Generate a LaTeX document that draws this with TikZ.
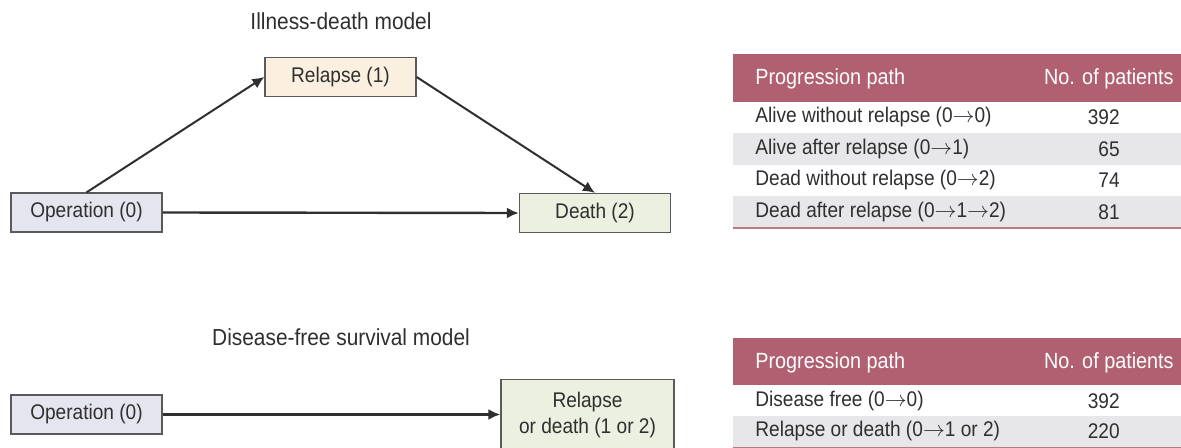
\documentclass[tikz,border=0pt]{standalone}
\usepackage{fontspec}
\setmainfont{Liberation Sans}[FakeStretch=0.9]
\usetikzlibrary{arrows.meta,positioning}
\definecolor{ink}{HTML}{2F2F2F}
\definecolor{edge}{HTML}{5A5A5A}
\definecolor{hdr}{HTML}{B06070}
\definecolor{stripe}{HTML}{E7E7E9}
\definecolor{opfill}{HTML}{E4E5EF}
\definecolor{relfill}{HTML}{FBF0E0}
\definecolor{deadfill}{HTML}{EBF0E0}
\newcommand{\txtfont}{\fontsize{10.6pt}{12.6pt}\selectfont}
\newcommand{\goes}{\ensuremath{\rightarrow}}
\tikzset{
  state/.style={draw=edge, line width=0.6pt, minimum width=75.5pt,
                minimum height=19.5pt, inner sep=2pt, font=\txtfont, text=ink,
                align=center},
  arrow/.style={-{Latex[length=6pt,width=5.5pt]}, line width=1.2pt, draw=ink},
  title/.style={font=\fontsize{11.6pt}{13.6pt}\selectfont, text=ink},
  headcell/.style={fill=hdr, minimum width=224pt, minimum height=24pt,
                   inner sep=0pt},
  rowcell/.style={minimum width=224pt, minimum height=15.75pt, inner sep=0pt},
  headtext/.style={font=\fontsize{11pt}{13pt}\selectfont, text=white, inner sep=0pt},
  celltext/.style={font=\txtfont, text=ink, inner sep=0pt},
  tabline/.style={draw=hdr!85, line width=1.1pt}
}
\begin{document}
\begin{tikzpicture}[x=0.5pt,y=-0.5pt]
  \useasboundingbox (0,0) rectangle (1181,448);

  % illness-death model
  \node[title] (t1) at (341,21) {Illness-death model};
  \node[state, fill=opfill] (op1) at (86.5,212.5) {Operation (0)};
  \node[state, fill=relfill] (rel) at (340.5,77) {Relapse (1)};
  \node[state, fill=deadfill] (dead) at (595,213) {Death (2)};
  \draw[arrow, line width=1pt] (op1.north) -- (rel.west);
  \draw[arrow, line width=1pt] (rel.east) -- (dead.north);
  \draw[arrow] (op1.east) -- (dead.west);

  % table of paths, illness-death
  \node[headcell] (h1) at (957,78) {};
  \node[headtext, anchor=west] (h1a) at (755,79) {Progression path};
  \node[headtext, anchor=east] (h1b) at (1174,79) {No. of patients};
  \foreach \i/\y/\lab/\num/\col in {
      1/117.5/{Alive without relapse (0\goes0)}/392/white,
      2/149/{Alive after relapse (0\goes1)}/65/stripe,
      3/180.5/{Dead without relapse (0\goes2)}/74/white,
      4/212/{Dead after relapse (0\goes1\goes2)}/81/stripe} {
    \node[rowcell, fill=\col] (pa\i) at (957,\y) {};
    \node[celltext, anchor=west] (pal\i) at (755,\y) {\lab};
    \node[celltext, anchor=east] (pan\i) at (1120,\y) {\num};
  }
  \draw[tabline] (pa4.south west) -- (pa4.south east);

  % disease-free survival model
  \node[title] (t2) at (341,337) {Disease-free survival model};
  \node[state, fill=opfill] (op2) at (86.5,414.5) {Operation (0)};
  \node[state, fill=deadfill, minimum width=86.5pt, minimum height=36pt,
        anchor=north] (rd) at (587.5,378.5) {Relapse\\or death (1 or 2)};
  \draw[arrow] (op2.east) -- (rd.west |- op2.east);

  % table of paths, disease-free
  \node[headcell] (h2) at (957,362) {};
  \node[headtext, anchor=west] (h2a) at (755,363) {Progression path};
  \node[headtext, anchor=east] (h2b) at (1174,363) {No. of patients};
  \foreach \i/\y/\lab/\num/\col in {
      1/401/{Disease free (0\goes0)}/392/white,
      2/431.5/{Relapse or death (0\goes1 or 2)}/220/stripe} {
    \node[rowcell, fill=\col] (pb\i) at (957,\y) {};
    \node[celltext, anchor=west] (pbl\i) at (755,\y) {\lab};
    \node[celltext, anchor=east] (pbn\i) at (1120,\y) {\num};
  }
  \draw[tabline] (pb2.south west) -- (pb2.south east);
\end{tikzpicture}
\end{document}
